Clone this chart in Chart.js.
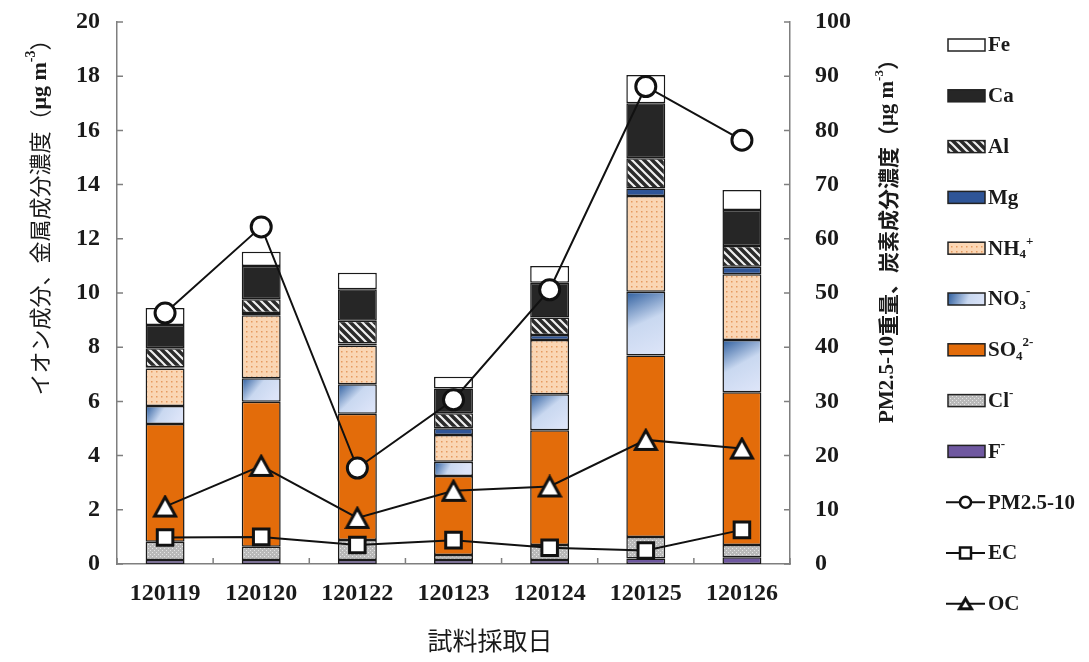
<!DOCTYPE html>
<html>
<head>
<meta charset="utf-8">
<script src="https://cdn.jsdelivr.net/npm/chart.js@4.4.1/dist/chart.umd.min.js"></script>
<style>
  html, body { margin: 0; padding: 0; background: #fff; }
  #wrap { width: 1089px; height: 662px; }
</style>
</head>
<body>
<div id="wrap"><canvas id="c" width="1089" height="662"></canvas></div>
<script>
// Sampling dates (YYMMDD)
const dates = ['120119', '120120', '120122', '120123', '120124', '120125', '120126'];

// Ion and metal components, µg/m3 (left axis, stacked bottom to top)
const fluoride  = [0.15, 0.15, 0.15, 0.15, 0.15, 0.20, 0.25];
const chloride  = [0.67, 0.49, 0.74, 0.18, 0.55, 0.80, 0.45];
const sulfate   = [4.35, 5.35, 4.65, 2.92, 4.24, 6.69, 5.64];
const nitrate   = [0.66, 0.86, 1.09, 0.52, 1.32, 2.36, 1.93];
const ammonium  = [1.38, 2.33, 1.43, 0.99, 2.01, 3.53, 2.42];
const magnesium = [0.05, 0.08, 0.08, 0.25, 0.18, 0.28, 0.28];
const aluminium = [0.70, 0.51, 0.84, 0.55, 0.65, 1.11, 0.76];
const calcium   = [0.86, 1.23, 1.16, 0.92, 1.28, 2.03, 1.33];
const iron      = [0.63, 0.52, 0.61, 0.43, 0.62, 1.04, 0.74];

// Mass and carbon components, µg/m3 (right axis)
const pmCoarse  = [46.3, 62.2, 17.7, 30.3, 50.6, 88.1, 78.2];
const elemC     = [4.9, 5.0, 3.5, 4.4, 3.0, 2.5, 6.3];
const orgC      = [10.6, 18.1, 8.5, 13.5, 14.3, 22.9, 21.3];

// Axis ticks
const leftTicks  = { min: 0, max: 20, step: 2 };
const rightTicks = { min: 0, max: 100, step: 10 };

// ---- fills ----
function makePattern(w, h, draw) {
  const c = document.createElement('canvas');
  c.width = w; c.height = h;
  const g = c.getContext('2d');
  draw(g, w, h);
  return g.createPattern(c, 'repeat');
}
const hatchFill = makePattern(8, 8, (g) => {
  g.fillStyle = '#2a2a2a'; g.fillRect(0, 0, 8, 8);
  g.strokeStyle = '#f0f0f0'; g.lineWidth = 2.2;
  g.beginPath();
  g.moveTo(-2, -2); g.lineTo(10, 10);
  g.moveTo(-2, 6); g.lineTo(2, 10);
  g.moveTo(6, -2); g.lineTo(10, 2);
  g.stroke();
});
const dotFill = makePattern(5, 5, (g) => {
  g.fillStyle = '#FAD6B4'; g.fillRect(0, 0, 5, 5);
  g.fillStyle = '#E59A60'; g.fillRect(1, 1, 1.5, 1.5);
});
const greyFill = makePattern(4, 4, (g) => {
  g.fillStyle = '#B9B9B9'; g.fillRect(0, 0, 4, 4);
  g.fillStyle = '#E4E4E4'; g.fillRect(0, 0, 1, 1); g.fillRect(2, 2, 1, 1);
});

function nitrateFill(ctx) {
  const chart = ctx.chart;
  const sx = chart.scales.x, sy = chart.scales.y;
  if (!chart.chartArea || !sx || !sy || ctx.dataIndex === undefined) return '#A9C0E6';
  const i = ctx.dataIndex;
  const base = fluoride[i] + chloride[i] + sulfate[i];
  const top = base + nitrate[i];
  const y0 = sy.getPixelForValue(top), y1 = sy.getPixelForValue(base);
  const xc = sx.getPixelForValue(i);
  const grad = chart.ctx.createLinearGradient(xc - 19, y0, xc + 10, y1);
  grad.addColorStop(0, '#2E5E9E');
  grad.addColorStop(0.5, '#C9D8F0');
  grad.addColorStop(1, '#DCE4F8');
  return grad;
}

// Triangle marker centred in its own box
function triangleMarker(size) {
  const c = document.createElement('canvas');
  c.width = size + 4; c.height = size + 2;
  const g = c.getContext('2d');
  const w = c.width, h = c.height;
  g.beginPath();
  g.moveTo(w / 2, 2.5);
  g.lineTo(w - 2.5, h - 2.5);
  g.lineTo(2.5, h - 2.5);
  g.closePath();
  g.fillStyle = '#fff'; g.fill();
  g.lineWidth = 3; g.lineJoin = 'miter'; g.strokeStyle = '#111'; g.stroke();
  return c;
}
const triImg = triangleMarker(22);
const triImgSmall = triangleMarker(13);

const barCommon = {
  type: 'bar', yAxisID: 'y', stack: 'ions', order: 1,
  borderColor: '#1a1a1a', borderWidth: 1.5, borderSkipped: false
};
const lineCommon = {
  type: 'line', yAxisID: 'y1', order: 0,
  borderColor: '#111', borderWidth: 2, pointBackgroundColor: '#fff',
  pointBorderColor: '#111', pointBorderWidth: 3, tension: 0
};

const datasets = [
  { ...barCommon, label: 'F-', data: fluoride, backgroundColor: '#6F58A0' },
  { ...barCommon, label: 'Cl-', data: chloride, backgroundColor: greyFill },
  { ...barCommon, label: 'SO42-', data: sulfate, backgroundColor: '#E36C0A' },
  { ...barCommon, label: 'NO3-', data: nitrate, backgroundColor: nitrateFill },
  { ...barCommon, label: 'NH4+', data: ammonium, backgroundColor: dotFill },
  { ...barCommon, label: 'Mg', data: magnesium, backgroundColor: '#2F5597' },
  { ...barCommon, label: 'Al', data: aluminium, backgroundColor: hatchFill },
  { ...barCommon, label: 'Ca', data: calcium, backgroundColor: '#262626' },
  { ...barCommon, label: 'Fe', data: iron, backgroundColor: '#ffffff' },
  { ...lineCommon, label: 'PM2.5-10', data: pmCoarse, pointStyle: 'circle', pointRadius: 10 },
  { ...lineCommon, label: 'EC', data: elemC, pointStyle: 'rect', pointRadius: 11 },
  { ...lineCommon, label: 'OC', data: orgC, pointStyle: triImg, pointRadius: 12 }
];

// Legend rows (top to bottom): swatch kind + rich label pieces
const legendRows = [
  { kind: 'bar', fill: '#ffffff', text: [['Fe']] },
  { kind: 'bar', fill: '#262626', text: [['Ca']] },
  { kind: 'bar', fill: hatchFill, text: [['Al']] },
  { kind: 'bar', fill: '#2F5597', text: [['Mg']] },
  { kind: 'bar', fill: dotFill, text: [['NH'], ['4', 'sub'], ['+', 'sup']] },
  { kind: 'bar', fill: 'grad', text: [['NO'], ['3', 'sub'], ['-', 'sup']] },
  { kind: 'bar', fill: '#E36C0A', text: [['SO'], ['4', 'sub'], ['2-', 'sup']] },
  { kind: 'bar', fill: greyFill, text: [['Cl'], ['-', 'sup']] },
  { kind: 'bar', fill: '#6F58A0', text: [['F'], ['-', 'sup']] },
  { kind: 'circle', text: [['PM2.5-10']] },
  { kind: 'rect', text: [['EC']] },
  { kind: 'tri', text: [['OC']] }
];

const SERIF = "'Liberation Serif', 'Times New Roman', serif";
const JP = "'Noto Sans CJK JP', sans-serif";

// pieces: [text, mode]; mode = 'sub' | 'sup' | 'jp' | undefined
function pieceFont(mode, size, weight, jpWeight) {
  if (mode === 'sub' || mode === 'sup') return `${weight} ${Math.round(size * 0.62)}px ${SERIF}`;
  if (mode === 'jp') return `${jpWeight} ${size}px ${JP}`;
  return `${weight} ${size}px ${SERIF}`;
}
function drawRich(ctx, x, y, parts, size, weight, jpWeight) {
  let cx = x;
  for (const [t, mode] of parts) {
    let dy = 0;
    if (mode === 'sub') dy = size * 0.28;
    if (mode === 'sup') dy = -size * 0.38;
    ctx.font = pieceFont(mode, size, weight, jpWeight);
    ctx.fillText(t, cx, y + dy);
    cx += ctx.measureText(t).width;
  }
  return cx - x;
}
function richWidth(ctx, parts, size, weight, jpWeight) {
  let w = 0;
  for (const [t, mode] of parts) {
    ctx.font = pieceFont(mode, size, weight, jpWeight);
    w += ctx.measureText(t).width;
  }
  return w;
}

const decorations = {
  id: 'decorations',
  afterDraw(chart) {
    const ctx = chart.ctx;
    const { left, right, bottom } = chart.chartArea;
    const sy = chart.scales.y, sy1 = chart.scales.y1;
    ctx.save();
    // inward tick marks
    ctx.strokeStyle = '#7f7f7f'; ctx.lineWidth = 1.5;
    ctx.beginPath();
    sy.ticks.forEach(t => { const p = sy.getPixelForValue(t.value); ctx.moveTo(left, p); ctx.lineTo(left + 6, p); });
    sy1.ticks.forEach(t => { const p = sy1.getPixelForValue(t.value); ctx.moveTo(right, p); ctx.lineTo(right - 6, p); });
    for (let i = 0; i <= dates.length; i++) {
      const p = left + (right - left) * i / dates.length;
      ctx.moveTo(p, bottom); ctx.lineTo(p, bottom - 6);
    }
    ctx.stroke();

    ctx.fillStyle = '#1a1a1a';
    ctx.textBaseline = 'middle';
    ctx.textAlign = 'left';

    // left axis title
    const lt = [['イオン成分、金属成分濃度（', 'jp'], ['μg m'], ['-3', 'sup'], ['）', 'jp']];
    ctx.save();
    ctx.translate(40, 212); ctx.rotate(-Math.PI / 2);
    let w = richWidth(ctx, lt, 22, 'bold', 'normal');
    drawRich(ctx, -w / 2, 0, lt, 22, 'bold', 'normal');
    ctx.restore();

    // right axis title
    const rt = [['PM2.5-10'], ['重量、炭素成分濃度（', 'jp'], ['μg m'], ['-3', 'sup'], ['）', 'jp']];
    ctx.save();
    ctx.translate(888, 236); ctx.rotate(-Math.PI / 2);
    w = richWidth(ctx, rt, 21, 'bold', 'bold');
    drawRich(ctx, -w / 2, 0, rt, 21, 'bold', 'bold');
    ctx.restore();

    // x axis title
    ctx.font = `25px ${JP}`;
    ctx.textAlign = 'center';
    ctx.fillText('試料採取日', 490, 640);
    ctx.textAlign = 'left';

    // legend
    const x0 = 948, sw = 37, gap = 50.8;
    legendRows.forEach((row, k) => {
      const y = 45 + k * gap;
      if (row.kind === 'bar') {
        let fill = row.fill;
        if (fill === 'grad') {
          fill = ctx.createLinearGradient(x0, y - 6, x0 + sw, y + 6);
          fill.addColorStop(0, '#2E5E9E'); fill.addColorStop(0.55, '#C9D8F0'); fill.addColorStop(1, '#DCE4F8');
        }
        ctx.fillStyle = fill;
        ctx.fillRect(x0, y - 6, sw, 12);
        ctx.strokeStyle = '#222'; ctx.lineWidth = 1.5;
        ctx.strokeRect(x0, y - 6, sw, 12);
      } else {
        ctx.strokeStyle = '#111'; ctx.lineWidth = 2;
        ctx.beginPath(); ctx.moveTo(x0 - 2, y); ctx.lineTo(x0 + sw, y); ctx.stroke();
        const cx = x0 + sw / 2 - 1;
        ctx.fillStyle = '#fff'; ctx.lineWidth = 2.5;
        if (row.kind === 'circle') {
          ctx.beginPath(); ctx.arc(cx, y, 5.5, 0, Math.PI * 2); ctx.fill(); ctx.stroke();
        } else if (row.kind === 'rect') {
          ctx.fillRect(cx - 5.5, y - 5.5, 11, 11); ctx.strokeRect(cx - 5.5, y - 5.5, 11, 11);
        } else {
          ctx.drawImage(triImgSmall, cx - triImgSmall.width / 2, y - triImgSmall.height / 2);
        }
      }
      ctx.fillStyle = '#1a1a1a';
      drawRich(ctx, x0 + sw + 3, y + 1, row.text, 21, 'bold', 'bold');
    });
    ctx.restore();
  }
};

const tickFont = { family: SERIF, size: 24, weight: 'bold' };

// Fixed axis band sizes; end-label overhang is absorbed by the layout padding
function fixWidth(w) {
  return (s) => { s.width = w; s.paddingTop = 0; s.paddingBottom = 0; };
}

new Chart(document.getElementById('c'), {
  data: { labels: dates, datasets },
  options: {
    responsive: false,
    animation: false,
    devicePixelRatio: 1,
    layout: { padding: { top: 22, left: 0, right: 0, bottom: 0 } },
    plugins: { legend: { display: false }, tooltip: { enabled: false } },
    datasets: { bar: { categoryPercentage: 1, barPercentage: 0.405 } },
    scales: {
      x: {
        stacked: true,
        grid: { display: false, drawTicks: false },
        border: { display: true, color: '#7f7f7f', width: 1.5 },
        ticks: { color: '#1a1a1a', font: tickFont, padding: 15 },
        afterFit: (s) => { s.height = 98; s.paddingLeft = 0; s.paddingRight = 0; }
      },
      y: {
        position: 'left', stacked: true,
        min: leftTicks.min, max: leftTicks.max,
        grid: { display: false, drawTicks: false },
        border: { display: true, color: '#7f7f7f', width: 1.5 },
        ticks: { stepSize: leftTicks.step, color: '#1a1a1a', font: tickFont, padding: 17 },
        afterFit: fixWidth(117)
      },
      y1: {
        position: 'right',
        min: rightTicks.min, max: rightTicks.max,
        grid: { display: false, drawTicks: false },
        border: { display: true, color: '#7f7f7f', width: 1.5 },
        ticks: { stepSize: rightTicks.step, color: '#1a1a1a', font: tickFont, padding: 25 },
        afterFit: fixWidth(299)
      }
    }
  },
  plugins: [decorations]
});
</script>
</body>
</html>
